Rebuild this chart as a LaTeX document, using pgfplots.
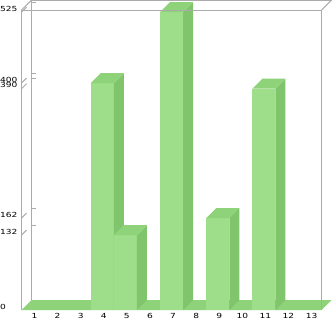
\documentclass[border=0pt]{standalone}
\usepackage{fontspec}
\setmainfont{DejaVu Sans}[FakeStretch=1.3]
\usepackage{pgfplots}
\pgfplotsset{compat=1.18}

\definecolor{barfront}{HTML}{9EDE8A}
\definecolor{bartop}{HTML}{8ED27A}
\definecolor{barside}{HTML}{80C46C}
\definecolor{framegray}{HTML}{ABABAB}

\begin{document}
\begin{tikzpicture}
% depth of the pseudo-3D box, in data units (x: categories, y: values)
\pgfmathsetmacro\dx{0.43333}
\pgfmathsetmacro\dy{17.62}
\begin{axis}[
  name=ax,
  scale only axis, width=310.1bp, height=310bp,
  xmin=0.5, xmax=13.93333, ymin=0, ymax=546.4,
  clip=false,
  axis line style={draw=none},
  major tick length=0pt,
  every axis plot/.append style={mark=none},
  xtick={1,...,13},
  ytick={0,132,162,390,400,525},
  tick label style={font=\fontsize{7}{8}\selectfont, inner sep=0pt, text=black},
  /pgf/number format/assume math mode=true,
  yticklabel style={anchor=west, xshift=-21.5bp, yshift=3.5bp},
  xticklabel style={anchor=north, yshift=-3bp, xshift=1.5bp},
]
% floor
\addplot[fill=bartop, draw=none] coordinates {(0.5,0) (13.5,0) (13.93333,17.62) (0.93333,17.62)};

% bars: category / value
\foreach \c/\v in {4/400,5/132,7/525,9/162,11/390}{
  \pgfmathsetmacro\xl{\c-0.5}
  \pgfmathsetmacro\xr{\c+0.5}
  \pgfmathsetmacro\xbl{\c-0.5+\dx}
  \pgfmathsetmacro\xbr{\c+0.5+\dx}
  \pgfmathsetmacro\yb{\v+\dy}
  \edef\temp{
    \noexpand\addplot[fill=barfront, draw=none] coordinates {(\xl,0) (\xr,0) (\xr,\v) (\xl,\v)};
    \noexpand\addplot[fill=barside, draw=none] coordinates {(\xr,0) (\xbr,\dy) (\xbr,\yb) (\xr,\v)};
    \noexpand\addplot[fill=bartop, draw=none] coordinates {(\xl,\v) (\xr,\v) (\xbr,\yb) (\xbl,\yb)};
  }
  \temp
}

% box frame
\addplot[framegray, line width=1bp] coordinates {(0.5,0) (0.5,528.7) (13.5,528.7) (13.5,0)};
\addplot[framegray, line width=1bp] coordinates {(0.93333,17.62) (0.93333,546.32) (13.93333,546.32)};
\addplot[framegray, line width=1bp] coordinates {(0.5,528.7) (0.93333,546.32)};
\addplot[framegray, line width=1bp] coordinates {(13.5,528.7) (13.93333,546.32)};

% tick marks: slanted on the front edge, flat on the back wall
\foreach \v in {132,162,390,400,525}{
  \pgfmathsetmacro\ym{\v+0.5*\dy}
  \pgfmathsetmacro\yb{\v+\dy}
  \edef\temp{
    \noexpand\addplot[framegray, line width=1bp] coordinates {(0.5,\v) (0.71667,\ym)};
    \noexpand\addplot[framegray, line width=1bp] coordinates {(0.93333,\yb) (1.13,\yb)};
  }
  \temp
}
\end{axis}
\pgfresetboundingbox
\path[use as bounding box] ([xshift=-21.5bp,yshift=-11bp]ax.south west) rectangle ([xshift=1.4bp]ax.north east);
\end{tikzpicture}
\end{document}
